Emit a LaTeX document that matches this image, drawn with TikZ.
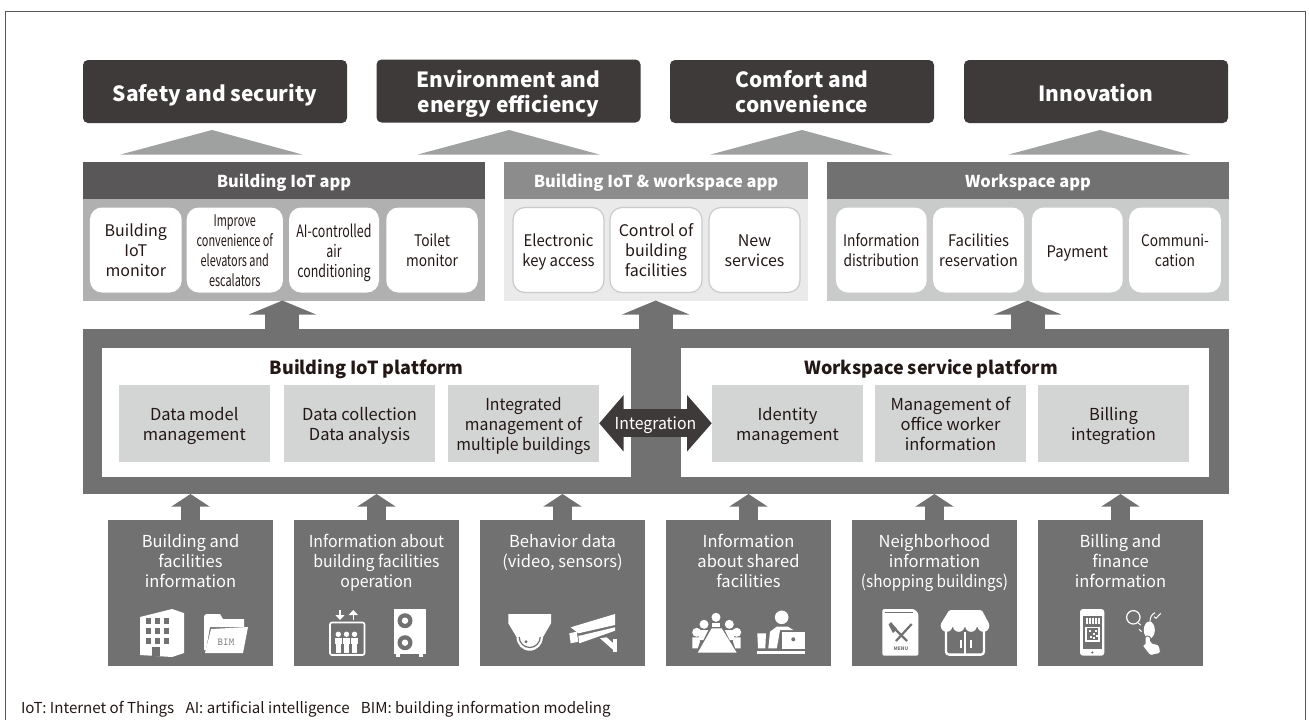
\documentclass[tikz,border=0pt]{standalone}
\usepackage{fontspec}
\setmainfont{Noto Sans CJK JP}
\newfontfamily\mildfont[FakeStretch=0.96]{Noto Sans CJK JP}
\newfontfamily\slimfont[FakeStretch=0.93]{Noto Sans CJK JP}
\newfontfamily\tightfont[FakeStretch=0.86]{Noto Sans CJK JP}
\newfontfamily\squeezefont[FakeStretch=0.73]{Noto Sans CJK JP}
\newfontfamily\narrowfont[FakeStretch=0.68]{Noto Sans CJK JP}
\usetikzlibrary{positioning,arrows.meta}
\definecolor{darkgoal}{HTML}{3E3A39}
\definecolor{midgray}{HTML}{727171}
\definecolor{headone}{HTML}{595757}
\definecolor{headtwo}{HTML}{8C8C8C}
\definecolor{bodyone}{HTML}{B0B0B0}
\definecolor{bodytwo}{HTML}{EAEAEA}
\definecolor{bodythree}{HTML}{C9CACA}
\definecolor{innergray}{HTML}{D3D4D4}
\definecolor{wedgegray}{HTML}{9FA0A0}
\definecolor{inktext}{HTML}{231815}
\newcommand{\textnudge}{0.38em}
\tikzset{
  every node/.style={inner sep=0pt,outer sep=0pt,align=center,
    execute at begin node={\vbox\bgroup\vskip \textnudge\hbox\bgroup\rule{0pt}{0.95em}},
    execute at end node={\rule[-0.35em]{0pt}{0.35em}\egroup\egroup}},
  goalbox/.style={fill=darkgoal,rounded corners=5pt,minimum width=264pt,minimum height=63pt,text=white,font=\bfseries\fontsize{20.9}{25}\selectfont},
  headbox/.style={minimum height=37.5pt,text=white,font=\def\textnudge{0.25em}\bfseries\fontsize{16.4}{18}\selectfont},
  bodybox/.style={minimum height=101.5pt},
  cardbox/.style={fill=white,rounded corners=12pt,minimum height=85pt,text=inktext,font=\fontsize{16}{20}\selectfont},
  innerbox/.style={fill=innergray,minimum width=151.5pt,minimum height=77pt,text=inktext,font=\fontsize{16.5}{20}\selectfont},
  platname/.style={text=inktext,font=\bfseries\fontsize{18}{22}\selectfont},
  srcbox/.style={fill=midgray,minimum width=165pt,minimum height=146pt},
  srctext/.style={text=white,font=\fontsize{16.5}{20}\selectfont},
  appflow/.style={draw=midgray,line width=34pt,-{Triangle[length=14pt,width=67pt]}},
  srcflow/.style={draw=midgray,line width=19.4pt,-{Triangle[length=12.7pt,width=38pt]}},
  iconw/.style={fill=white,draw=none},
  icond/.style={fill=midgray,draw=none},
  iconl/.style={draw=white,line width=1.6pt,fill=none}
}
\begin{document}
\begin{tikzpicture}[x=1pt,y=-1pt]
\useasboundingbox (0,0) rectangle (1309,720);
\draw[headone,line width=1pt] (5.5,720) -- (5.5,11) -- (1305.5,11) -- (1305.5,720);

% goals
\node[goalbox] (goal1) at (215,91.5) {Safety and security};
\node[goalbox] (goal2) at (508.5,91) {Environment and\\energy efficiency};
\node[goalbox] (goal3) at (802,91.5) {Comfort and\\convenience};
\node[goalbox] (goal4) at (1096,91.5) {Innovation};
\foreach \xa/\xt/\xb in {120/212/303,417/509/600,710/802/893,1008/1100/1190}
  \fill[wedgegray] (\xa,154.7) -- (\xt,130) -- (\xb,154.7) -- cycle;

% app panels
\node[headbox,fill=headone,minimum width=402pt] (head1) at (284,180.3) {Building IoT app};
\node[headbox,fill=headtwo,minimum width=304pt] (head2) at (656,180.3) {Building IoT \& workspace app};
\node[headbox,fill=midgray,minimum width=402pt] (head3) at (1028,180.3) {Workspace app};
\node[bodybox,fill=bodyone,minimum width=402pt] (body1) at (284,249.8) {};
\node[bodybox,fill=bodytwo,minimum width=304pt] (body2) at (656,249.8) {};
\node[bodybox,fill=bodythree,minimum width=402pt] (body3) at (1028,249.8) {};

\node[cardbox,minimum width=91.7pt] (card1) at (135.8,250) {Building\\IoT\\monitor};
\node[cardbox,minimum width=96.3pt,font=\narrowfont\fontsize{16}{20}\selectfont] (card2) at (234.8,250) {Improve\\convenience of\\elevators and\\escalators};
\node[cardbox,minimum width=90pt,font=\squeezefont\fontsize{17}{20}\selectfont] (card3) at (334,250) {AI-controlled\\air\\conditioning};
\node[cardbox,minimum width=91.5pt,font=\tightfont\fontsize{16}{20}\selectfont] (card4) at (432,250) {Toilet\\monitor};
\node[cardbox,minimum width=91pt,draw=bodythree,line width=1.2pt,font=\slimfont\fontsize{16}{20}\selectfont] (card5) at (558.5,250) {Electronic\\key access};
\node[cardbox,minimum width=92pt,draw=bodythree,line width=1.2pt] (card6) at (656,250) {Control of\\building\\facilities};
\node[cardbox,minimum width=91pt,draw=bodythree,line width=1.2pt] (card7) at (754.5,250) {New\\services};
\node[cardbox,minimum width=90.7pt,font=\tightfont\fontsize{16}{20}\selectfont] (card8) at (881.3,250) {Information\\distribution};
\node[cardbox,minimum width=91pt,font=\slimfont\fontsize{16}{20}\selectfont] (card9) at (978.5,250) {Facilities\\reservation};
\node[cardbox,minimum width=90.7pt,font=\slimfont\fontsize{16}{20}\selectfont] (card10) at (1077.3,250) {Payment};
\node[cardbox,minimum width=91.7pt,font=\tightfont\fontsize{16}{20}\selectfont] (card11) at (1175,250) {Communi-\\cation};

% platforms
\node[fill=midgray,minimum width=1146pt,minimum height=165pt] (plat) at (656,411.5) {};
\node[fill=white,minimum width=528.5pt,minimum height=128.6pt] (pbox1) at (366.7,412.5) {};
\node[fill=white,minimum width=528pt,minimum height=128.6pt] (pbox2) at (944.7,412.5) {};
\node[platname] (pname1) at (366.7,365.5) {Building IoT platform};
\node[platname] (pname2) at (931,365.5) {Workspace service platform};

\node[innerbox] (inner1) at (194.3,423.3) {Data model\\management};
\node[innerbox] (inner2) at (359.5,423.3) {Data collection\\Data analysis};
\node[innerbox,font=\mildfont\fontsize{16.5}{20}\selectfont] (inner3) at (523.5,423.3) {Integrated\\management of\\multiple buildings};
\node[innerbox] (inner4) at (787.5,423.3) {Identity\\management};
\node[innerbox] (inner5) at (950.5,423.3) {Management of\\office worker\\information};
\node[innerbox] (inner6) at (1113.5,423.3) {Billing\\integration};

\draw[draw=darkgoal,line width=27.7pt,{Triangle[length=24.3pt,width=55pt]}-{Triangle[length=24.7pt,width=55pt]}] (inner3.east) -- (inner4.west) node[midway,yshift=1.5pt,text=white,font=\mildfont\fontsize{16.5}{20}\selectfont] (integ) {Integration};

% arrows up to the apps
\coordinate (up1) at (282.4,329);
\coordinate (up2) at (655.7,329);
\coordinate (up3) at (1027.7,329);
\draw[appflow] (up1) -- (up1 |- body1.south);
\draw[appflow] (up2) -- (up2 |- body2.south);
\draw[appflow] (up3) -- (up3 |- body3.south);

% sources
\node[srcbox] (src1) at (190.5,593) {};
\node[srcbox] (src2) at (376.5,593) {};
\node[srcbox] (src3) at (562.5,593) {};
\node[srcbox] (src4) at (748.5,593) {};
\node[srcbox] (src5) at (934.5,593) {};
\node[srcbox] (src6) at (1120.5,593) {};
\node[srctext,below=7.7pt of src1.north] (txt1) {Building and\\facilities\\information};
\node[srctext,below=7.7pt of src2.north,font=\mildfont\fontsize{16.5}{20}\selectfont] (txt2) {Information about\\building facilities\\operation};
\node[srctext,below=7.7pt of src3.north] (txt3) {Behavior data\\(video, sensors)};
\node[srctext,below=7.7pt of src4.north] (txt4) {Information\\about shared\\facilities};
\node[srctext,below=7.7pt of src5.north] (txt5) {Neighborhood\\information\\{\slimfont (shopping buildings)}};
\node[srctext,below=7.7pt of src6.north] (txt6) {Billing and\\finance\\information};
\draw[srcflow] (src1.north) -- (src1.north |- plat.south);
\draw[srcflow] (src2.north) -- (src2.north |- plat.south);
\draw[srcflow] (src3.north) -- (src3.north |- plat.south);
\draw[srcflow] (src4.north) -- (src4.north |- plat.south);
\draw[srcflow] (src5.north) -- (src5.north |- plat.south);
\draw[srcflow] (src6.north) -- (src6.north |- plat.south);

% icon: building
\fill[iconw] (140,617) -- (172,609) -- (184,613) -- (184,653) -- (172,657) -- (140,655) -- cycle;
\foreach \yy in {618,628,638} \foreach \xx in {146,155,164}
  \fill[icond] (\xx,\yy) rectangle ++(5,6);
\fill[icond] (152,647) rectangle (160,656);
% icon: folder
\fill[iconw] (204,650) -- (204,616) -- (206,614) -- (220,614) -- (223,619) -- (244,619) -- (244,627) -- (210,627) -- (206,650) -- cycle;
\fill[iconw] (211,629) -- (248,627) -- (243,653) -- (205,653) -- cycle;
\node[text=midgray,font=\ttfamily\fontsize{10.5}{12}\selectfont] (bimtag) at (226,640.5) {BIM};
% icon: elevator
\draw[iconl,rounded corners=2pt] (330,622.5) rectangle (364.5,655);
\foreach \xx in {338.3,346.5,354.5}{
  \fill[iconw] (\xx,634.3) circle (2.7);
  \fill[iconw] (\xx-3.4,638) rectangle (\xx+3.4,644);
  \fill[iconw] (\xx-2.2,644) rectangle (\xx+2.2,653);
}
\draw[white,line width=1.5pt,-{Triangle[length=5pt,width=9pt]}] (340,610) -- (340,620);
\draw[white,line width=1.5pt,-{Triangle[length=5pt,width=9pt]}] (353.3,620) -- (353.3,610);
% icon: outdoor unit
\fill[iconw] (394,609) rectangle (426,654);
\fill[iconw] (396,654) rectangle (400,656.7);
\fill[iconw] (419,654) rectangle (422.7,656.7);
\foreach \yy in {620.7,642.7}{
  \fill[icond] (405,\yy) circle (7.5);
  \fill[iconw] (405,\yy) circle (3.2);
}
% icon: dome camera
\fill[iconw] (508.3,614) -- (551,614) -- (551,623.3) -- (543,637) -- (516.5,637) -- (508.3,623.3) -- cycle;
\fill[iconw] (516.5,637) arc[start angle=180,end angle=0,x radius=13.2,y radius=13.7] -- cycle;
\draw[midgray,line width=1.2pt] (519.2,637) arc[start angle=180,end angle=0,radius=10.5];
\fill[icond] (526,641.7) circle (1.7);
% icon: wall camera
\fill[iconw] (570.7,627.3) -- (615,614) -- (615,625) -- (578.3,633.3) -- cycle;
\fill[iconw] (569.3,633.3) -- (576.7,631.7) -- (578.3,641.7) -- (570.7,643.3) -- cycle;
\fill[iconw] (578.3,636) -- (615,627.3) -- (615,630.7) -- (579.3,643.3) -- cycle;
\fill[iconw] (600,638.3) -- (606.7,637.3) -- (613.3,643.3) -- (613.3,650) -- cycle;
\fill[iconw] (613.3,639.3) rectangle (616.7,652.3);
% icon: meeting
\fill[iconw] (711.7,628.3) -- (721.7,628.3) -- (736.7,652.7) -- (697.7,652.7) -- cycle;
\fill[iconw] (716,617.3) circle (4.5);
\fill[iconw] (704,624.3) circle (4.5);
\fill[iconw] (729.3,624.3) circle (4.5);
\fill[iconw] (696.7,632.3) circle (4.5);
\fill[iconw] (736.7,632.3) circle (4.5);
\fill[iconw] (712,622.7) rectangle (720,627);
\fill[iconw] (700.3,630) -- (708.3,630) -- (703.3,640) -- (698,640) -- cycle;
\fill[iconw] (732.7,630) -- (724.7,630) -- (729.7,640) -- (735,640) -- cycle;
\fill[iconw] (692.3,637.3) -- (699,637.3) -- (700,641.7) -- (697.7,648.3) -- (692.3,648.3) -- cycle;
\fill[iconw] (740.7,637.3) -- (734,637.3) -- (733,641.7) -- (735.3,648.3) -- (740.7,648.3) -- cycle;
% icon: reception
\fill[iconw] (781.7,617.3) circle (6.8);
\fill[iconw] (768.3,648.3) -- (770,631.7) -- (776.7,626.7) -- (788,626.7) -- (793.3,630) -- (780,630) -- (778.3,640) -- (776.7,648.3) -- cycle;
\fill[iconw] (781.7,631.7) rectangle (805,649.3);
\fill[icond] (793.3,639.3) circle (2);
\fill[iconw] (757.3,633.3) -- (766,633.3) -- (765.3,648.3) -- (758,648.3) -- cycle;
\fill[iconw] (757.3,650.7) rectangle (805,654);
% icon: menu
\fill[iconw,rounded corners=1.5pt] (882.3,609) -- (914,609) -- (918.3,613) -- (918.3,655.7) -- (882.3,655.7) -- cycle;
\draw[midgray,line width=1pt] (885,612.7) -- (913.3,612.7);
\draw[midgray,line width=2.2pt] (893,627) -- (907,641);
\draw[midgray,line width=2.2pt] (911.7,624) -- (896,641);
\fill[icond] (888.5,624.5) -- (891,622) -- (897,629) -- (893,633) -- cycle;
\node[text=midgray,font=\bfseries\fontsize{4.8}{5}\selectfont] (menutag) at (901,648) {MENU};
% icon: shop
\draw[iconl,line width=2.3pt,rounded corners=3pt] (946,626) -- (946,654.6) -- (984,654.6) -- (984,626);
\fill[iconw,rounded corners=1.5pt] (949.3,610) -- (981.7,610) -- (989.3,624) -- (989.3,627) -- (940.7,627) -- (940.7,624) -- cycle;
\foreach \xx in {946.6,958.8,971,983.4}
  \fill[iconw] (\xx,626) circle (5.8);
\fill[iconw] (964.2,632) rectangle (965.8,654);
\fill[iconw] (959.8,640) rectangle (961.8,648);
\fill[iconw] (969.8,640) rectangle (971.8,648);
% icon: phone
\fill[iconw,rounded corners=3pt] (1080,609) rectangle (1104.3,655.7);
\fill[icond] (1082.7,615.7) rectangle (1102,649);
\foreach \xx in {1085.5,1088.7,1092,1095.2,1098}
  \fill[iconw] (\xx,618) rectangle ++(2,6);
\fill[iconw] (1085.3,626.7) rectangle (1100,641.7);
\fill[icond] (1087,628.3) rectangle (1098.3,640);
\foreach \xx/\yy in {1089/630,1092.5/632.5,1095/630,1089.5/636,1093/637,1095.5/635}
  \fill[iconw] (\xx,\yy) rectangle ++(2,2);
\fill[icond] (1092.3,652.5) circle (1.2);
% icon: touching hand
\draw[iconl,line width=1.2pt] (1133.3,617.3) circle (6.7);
\draw[iconl,line width=1pt] (1138.3,623) -- (1140.7,625);
\draw[iconl,line width=1pt] (1139,629.3) -- (1141.7,631.7);
\fill[iconw] (1149.3,630) ellipse (5.5 and 8.5);
\draw[iconl,line width=1pt] (1150,621.7) .. controls (1150,617) and (1152,614) .. (1155,612.7);
\draw[iconl,line width=1pt] (1154,616.7) -- (1156,618.3) -- (1160.7,613.3);
\fill[iconw,draw=midgray,line width=1pt,rounded corners=1.5pt] (1145,636) -- (1150,636) -- (1151,642.7) -- (1159.3,645) -- (1160.7,653.3) -- (1150,655.7) -- (1141.7,645) -- (1145,645) -- cycle;

% abbreviations
\node[anchor=west,text=inktext,font=\fontsize{15.1}{18}\selectfont] (abbr) at (21,706.5) {IoT: Internet of Things\hspace{0.75em}AI: artificial intelligence\hspace{0.75em}BIM: building information modeling};
\end{tikzpicture}
\end{document}
